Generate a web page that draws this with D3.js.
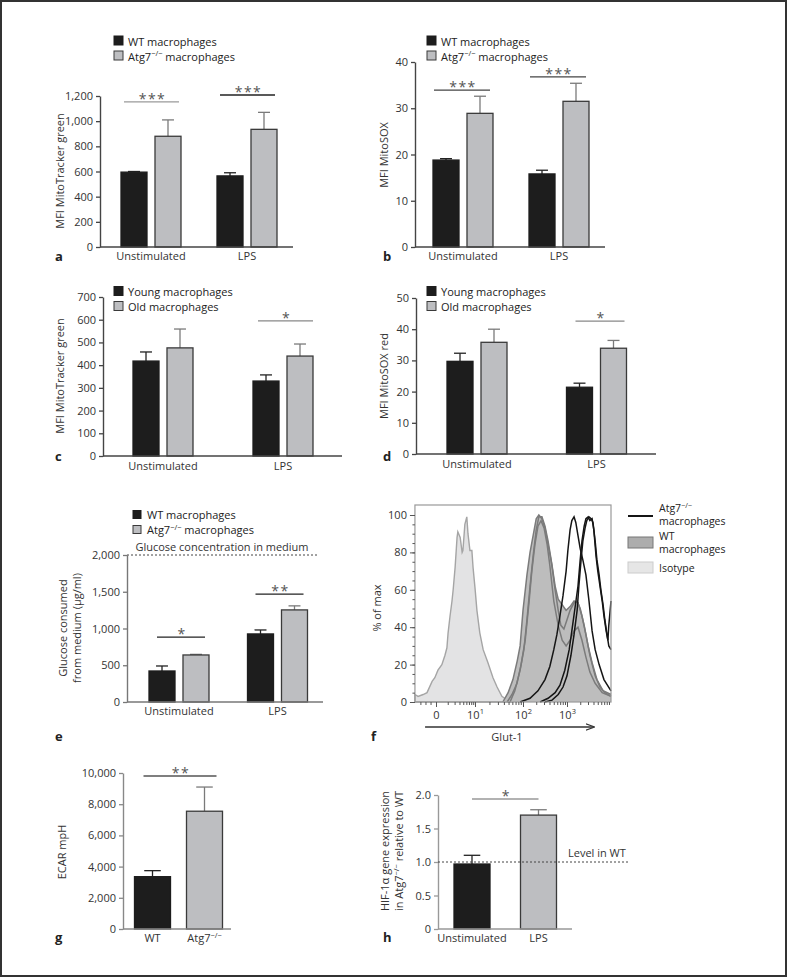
<!DOCTYPE html>
<html><head><meta charset="utf-8">
<script src="https://cdn.jsdelivr.net/npm/d3@7"></script>
<style>
body{margin:0;background:#fff}
svg{display:block;font-family:"Open Sans",sans-serif}
</style></head>
<body><svg id="fig" width="787" height="977"></svg>
<script>
// ---- data ----
const groups = ["Unstimulated","LPS"];
const wtMito = [595,565],  wtMitoSem = [5,25];
const koMito = [880,935],  koMitoSem = [130,135];
const wtSox = [18.8,15.8], wtSoxSem = [0.3,0.8];
const koSox = [28.9,31.5], koSoxSem = [3.7,3.9];
const youngMito = [418,330], youngMitoSem = [40,27];
const oldMito = [476,440],   oldMitoSem = [83,53];
const youngSox = [29.7,21.4], youngSoxSem = [2.6,1.3];
const oldSox = [35.8,33.9],   oldSoxSem = [4.2,2.5];
const wtGlc = [422,926],  wtGlcSem = [68,54];
const koGlc = [640,1253], koGlcSem = [8,55];
const ecarCats = ["WT","Atg7"];
const ecar = [3355,7550], ecarSem = [385,1550];
const hif = [0.97,1.70],  hifSem = [0.13,0.08];
const glucoseInMedium = 2000, levelInWT = 1.0;

// significance: [category, stars, level]
const sigA = [["Unstimulated","***",1153],["LPS","***",1208]];
const sigB = [["Unstimulated","***",33.9],["LPS","***",36.8]];
const sigC = [["LPS","*",595]];
const sigD = [["LPS","*",42.6]];
const sigE = [["Unstimulated","*",884],["LPS","**",1469]];
const sigG = [["WT","**",9808]];
const sigH = [["Unstimulated","*",1.94]];

const ticksA = d3.range(0,1201,200), ticksB = d3.range(0,41,10);
const ticksC = d3.range(0,701,100), ticksD = d3.range(0,51,10);
const ticksE = d3.range(0,2001,500), ticksG = d3.range(0,10001,2000);
const ticksH = [0,0.5,1,1.5,2];

// flow histograms: [Glut-1 (decades, 0 = "0", 1 = 10^1 ...), % of max]
const isotype = [[-0.54,4],[-0.46,3],[-0.33,4],[-0.23,5],[-0.10,11],[-0.03,13],[0.05,17],[0.15,20],[0.23,25],[0.28,29],[0.31,37],[0.36,46],[0.41,54],[0.44,60],[0.49,72],[0.54,88],[0.56,91],[0.62,88],[0.67,80],[0.69,81],[0.74,95],[0.79,99],[0.82,90],[0.87,81],[0.92,81],[0.95,72],[1.0,61],[1.04,49],[1.10,37],[1.17,28],[1.27,21],[1.375,13],[1.46,8],[1.56,3],[1.67,1],[1.77,0]];
const wt1 = [[1.58,0],[1.69,5],[1.79,12],[1.88,22],[1.94,30],[2.0,49],[2.09,68],[2.16,80],[2.23,89],[2.30,98],[2.36,100],[2.43,98],[2.50,93],[2.57,84],[2.66,73],[2.73,62],[2.80,55],[2.89,52],[2.98,49],[3.07,51],[3.16,54],[3.25,53],[3.34,46],[3.43,36],[3.52,25],[3.64,14],[3.75,8],[3.86,5],[4.0,3]];
const wt2 = [[1.73,0],[1.83,6],[1.94,17],[2.02,28],[2.09,44],[2.16,62],[2.23,78],[2.30,92],[2.36,99],[2.43,99],[2.50,94],[2.57,86],[2.64,76],[2.73,60],[2.80,49],[2.86,41],[2.93,39],[3.0,44],[3.07,49],[3.16,53],[3.23,54],[3.30,50],[3.39,41],[3.48,30],[3.57,21],[3.68,12],[3.82,6],[4.0,4]];
const wt3 = [[1.67,0],[1.77,4],[1.875,10],[1.96,20],[2.05,33],[2.14,54],[2.20,70],[2.27,84],[2.34,94],[2.41,97],[2.48,93],[2.55,84],[2.61,73],[2.70,54],[2.80,41],[2.89,33],[2.98,30],[3.07,33],[3.16,38],[3.25,40],[3.34,33],[3.43,24],[3.52,16],[3.64,10],[3.80,5],[4.0,3]];
const ko1 = [[1.94,0],[2.16,2],[2.34,6],[2.5,12],[2.61,19],[2.70,28],[2.77,36],[2.84,46],[2.91,57],[2.98,70],[3.02,81],[3.07,92],[3.11,97],[3.16,99],[3.20,96],[3.25,89],[3.30,82],[3.36,76],[3.43,68],[3.50,54],[3.57,38],[3.64,28],[3.73,20],[3.84,12],[4.0,6]];
const ko2 = [[2.39,0],[2.57,2],[2.73,5],[2.84,9],[2.95,17],[3.05,28],[3.11,38],[3.18,50],[3.25,62],[3.30,76],[3.34,86],[3.39,94],[3.43,98],[3.48,99],[3.52,97],[3.57,98],[3.61,92],[3.66,78],[3.70,70],[3.75,62],[3.80,54],[3.84,46],[3.89,38],[3.93,33],[3.95,41],[4.0,54]];
const ko3 = [[2.5,0],[2.66,1],[2.80,4],[2.91,8],[3.0,14],[3.09,25],[3.16,36],[3.23,49],[3.27,62],[3.32,76],[3.36,86],[3.41,93],[3.45,97],[3.50,99],[3.55,98],[3.59,96],[3.64,86],[3.68,76],[3.73,68],[3.77,60],[3.82,52],[3.86,44],[3.91,36],[3.95,30],[4.0,28]];

// ---- drawing ----
const svg = d3.select('#fig');
const BLACK = '#1d1d1d', GREY = '#bdbec1';
const barStyle = [{fill:BLACK,stroke:'#1d1d1d',err:'#222'},{fill:GREY,stroke:'#3a3a3a',err:'#7a7a7a'}];
const ATG = ["Atg7","^−/−"];

function rich(t, parts){
  let up = false;
  parts.forEach(p=>{
    const sup = p.startsWith('^');
    const ts = t.append('tspan').text(sup ? p.slice(1) : p);
    if(sup){ ts.attr('font-size','0.68em').attr('dy',-4.5); up = true; }
    else if(up){ ts.attr('dy',4.5); up = false; }
  });
  return t;
}

function barPanel(o){
  const g = svg.append('g');
  const y = d3.scaleLinear().domain([0,o.ymax]).range([o.base,o.top]);
  const xg = d3.scalePoint().domain(o.cats).range(o.centers);
  const xs = d3.scaleBand().domain(d3.range(o.series.length)).range([-o.span/2,o.span/2]).paddingInner(o.pad||0);
  const bw = xs.bandwidth();
  const bars = [];
  o.series.forEach((s,si)=>s.vals.forEach((v,i)=>bars.push({
    v, sem:s.sem[i], st:barStyle[o.byCat?i:si], x:xg(o.cats[i])+xs(si)})));

  // error bars (upper only)
  const eb = g.append('g').selectAll('g').data(bars).join('g')
    .attr('stroke',d=>d.st.err).attr('stroke-width',1.3);
  eb.append('line').attr('x1',d=>d.x+bw/2).attr('x2',d=>d.x+bw/2)
    .attr('y1',d=>y(d.v)).attr('y2',d=>y(d.v+d.sem));
  eb.append('line').attr('x1',d=>d.x+bw/2-bw*0.23).attr('x2',d=>d.x+bw/2+bw*0.23)
    .attr('y1',d=>y(d.v+d.sem)).attr('y2',d=>y(d.v+d.sem));

  g.append('g').selectAll('rect').data(bars).join('rect')
    .attr('x',d=>d.x).attr('y',d=>y(d.v)).attr('width',bw).attr('height',d=>y(0)-y(d.v))
    .attr('fill',d=>d.st.fill).attr('stroke',d=>d.st.stroke).attr('stroke-width',1.3);

  // axes
  const ax = g.append('g').attr('transform',`translate(${o.x0},0)`)
    .call(d3.axisLeft(y).tickValues(o.ticks).tickSize(4).tickSizeOuter(0).tickPadding(3)
      .tickFormat(o.fmt||d3.format(',')))
    .attr('font-family','"Open Sans",sans-serif').attr('font-size',11);
  ax.select('.domain').attr('stroke',o.axis).attr('stroke-width',1.4);
  ax.selectAll('.tick line').attr('stroke',o.axis).attr('stroke-width',1.3);
  ax.selectAll('.tick text').attr('fill','#333');
  g.append('line').attr('x1',o.x0).attr('x2',o.x1).attr('y1',y(0)).attr('y2',y(0))
    .attr('stroke',o.axis).attr('stroke-width',1.4);
  o.catLabels.forEach((parts,i)=>{
    rich(g.append('text').attr('x',xg(o.cats[i])).attr('y',o.labelY).attr('text-anchor','middle')
      .attr('font-size',11).attr('fill','#333'), parts);
  });

  // significance bars
  (o.sig||[]).forEach(([c,lab,at],k)=>{
    let xa, xb;
    if(o.byCat){ xa = xg(o.cats[0])+xs(0)+o.sigIn[0]; xb = xg(o.cats[1])+xs(0)+bw-o.sigIn[1]; }
    else { xa = xg(c)+xs(0)+o.sigIn[0]; xb = xg(c)+xs(o.series.length-1)+bw-o.sigIn[1]; }
    g.append('line').attr('x1',xa).attr('x2',xb).attr('y1',y(at)).attr('y2',y(at))
      .attr('stroke',o.sigColor[k]).attr('stroke-width',1.3);
    g.append('text').attr('x',(xa+xb)/2+1).attr('y',y(at)+2).attr('text-anchor','middle')
      .attr('font-size',14).attr('letter-spacing',1.5).attr('fill','#555').text(lab);
  });

  // reference line
  if(o.ref){
    g.append('line').attr('x1',o.x0).attr('x2',o.ref.x2).attr('y1',y(o.ref.v)).attr('y2',y(o.ref.v))
      .attr('stroke','#444').attr('stroke-width',1).attr('stroke-dasharray','2,2');
    g.append('text').attr('x',o.ref.lx).attr('y',y(o.ref.v)-o.ref.dy).attr('text-anchor',o.ref.anchor)
      .attr('font-size',11).attr('fill','#333').text(o.ref.label);
  }

  // legend
  if(o.legend){
    const L = o.legend, sz = L.size||9;
    L.items.forEach((parts,k)=>{
      const by = L.y + k*L.dy;
      g.append('rect').attr('x',L.x).attr('y',by-sz).attr('width',sz).attr('height',sz)
        .attr('fill',barStyle[k].fill).attr('stroke',barStyle[k].stroke).attr('stroke-width',1);
      rich(g.append('text').attr('x',L.x+14).attr('y',by+0.5).attr('font-size',11).attr('fill','#222'), parts);
    });
  }

  // y label
  o.ylab.lines.forEach((parts,k)=>{
    rich(g.append('text').attr('transform',`translate(${o.ylab.x+k*14},${o.ylab.y}) rotate(-90)`)
      .attr('text-anchor','middle').attr('font-size',11).attr('fill','#333'), parts);
  });
  g.append('text').attr('x',o.letter[0]).attr('y',o.letter[1]).attr('font-size',13)
    .attr('font-weight','bold').attr('fill','#222').text(o.letter[2]);
}

const wtKoLegend = [["WT macrophages"],[...ATG," macrophages"]];
const ageLegend = [["Young macrophages"],["Old macrophages"]];
const grpLabels = groups.map(d=>[d]);

barPanel({x0:100,x1:293,base:247,top:96,ymax:1200,cats:groups,centers:[151,247],span:60,pad:0.235,
  series:[{vals:wtMito,sem:wtMitoSem},{vals:koMito,sem:koMitoSem}],ticks:ticksA,axis:'#444',
  catLabels:grpLabels,labelY:260,sig:sigA,sigIn:[3,2],sigColor:['#9a9a9a','#222'],
  legend:{x:114,y:45,dy:15,items:wtKoLegend},ylab:{x:64,y:171,lines:[["MFI MitoTracker green"]]},letter:[55,261,'a']});

barPanel({x0:415,x1:605,base:247,top:62,ymax:40,cats:groups,centers:[463,559],span:60,pad:0.235,
  series:[{vals:wtSox,sem:wtSoxSem},{vals:koSox,sem:koSoxSem}],ticks:ticksB,axis:'#444',
  catLabels:grpLabels,labelY:260,sig:sigB,sigIn:[1,3],sigColor:['#444','#444'],
  legend:{x:427,y:45,dy:15,items:wtKoLegend},ylab:{x:388,y:155,lines:[["MFI MitoSOX"]]},letter:[383,261,'b']});

barPanel({x0:103,x1:342,base:456,top:297,ymax:700,cats:groups,centers:[163,283],span:60,pad:0.235,
  series:[{vals:youngMito,sem:youngMitoSem},{vals:oldMito,sem:oldMitoSem}],ticks:ticksC,axis:'#444',
  catLabels:grpLabels,labelY:470,sig:sigC,sigIn:[5,0],sigColor:['#888'],
  legend:{x:114,y:295.5,dy:15,items:ageLegend},ylab:{x:64,y:376,lines:[["MFI MitoTracker green"]]},letter:[55,461,'c']});

barPanel({x0:416,x1:656,base:454,top:298,ymax:50,cats:groups,centers:[477,596.5],span:60,pad:0.235,
  series:[{vals:youngSox,sem:youngSoxSem},{vals:oldSox,sem:oldSoxSem}],ticks:ticksD,axis:'#444',
  catLabels:grpLabels,labelY:468,sig:sigD,sigIn:[9,2],sigColor:['#888'],
  legend:{x:427,y:295.5,dy:15,items:ageLegend},ylab:{x:388,y:376,lines:[["MFI MitoSOX red"]]},letter:[383,461,'d']});

barPanel({x0:127,x1:323,base:702,top:555,ymax:2000,cats:groups,centers:[179,277.5],span:60,pad:0.235,
  series:[{vals:wtGlc,sem:wtGlcSem},{vals:koGlc,sem:koGlcSem}],ticks:ticksE,axis:'#777',
  catLabels:grpLabels,labelY:715,sig:sigE,sigIn:[8,4],sigColor:['#222','#222'],
  ref:{v:glucoseInMedium,x2:317,label:"Glucose concentration in medium",lx:222,dy:4,anchor:'middle'},
  legend:{x:133,y:518.5,dy:15,size:8,items:wtKoLegend},
  ylab:{x:67,y:628,lines:[["Glucose consumed"],["from medium (µg/ml)"]]},letter:[55,741,'e']});

barPanel({x0:123,x1:231,base:929,top:773,ymax:10000,cats:ecarCats,centers:[152.5,204.5],span:36,byCat:true,
  series:[{vals:ecar,sem:ecarSem}],ticks:ticksG,axis:'#888',
  catLabels:[["WT"],ATG],labelY:942,sig:sigG,sigIn:[9,6],sigColor:['#555'],
  ylab:{x:66,y:852,lines:[["ECAR mpH"]]},letter:[55,942,'g']});

barPanel({x0:438,x1:572,base:929,top:795,ymax:2,cats:groups,centers:[472,538.5],span:36,byCat:true,
  series:[{vals:hif,sem:hifSem}],ticks:ticksH,axis:'#999',fmt:d=>d?d.toFixed(1):'0',
  catLabels:grpLabels,labelY:942,sig:sigH,sigIn:[18,18],sigColor:['#999'],
  ref:{v:levelInWT,x2:630,label:"Level in WT",lx:568,dy:5,anchor:'start'},
  ylab:{x:389,y:851,lines:[["HIF-1α gene expression"],["in ",...ATG," relative to WT"]]},letter:[383,942,'h']});

// ---- panel f : flow histogram ----
(function(){
  const g = svg.append('g');
  const x = d3.scaleLinear().domain([0,1,2,3]).range([436,475,523,567]);
  const y = d3.scaleLinear().domain([0,100]).range([702,515]);
  const xl = x(-0.54), xr = x(4), yt = 505;
  const area = d3.area().x(d=>x(d[0])).y0(y(0)).y1(d=>y(d[1]));
  const line = d3.line().x(d=>x(d[0])).y(d=>y(d[1]));

  g.append('path').attr('d',area(isotype)).attr('fill','#e3e3e4').attr('stroke','#a5a5a5').attr('stroke-width',1.4);
  [wt1,wt2,wt3].forEach(c=>g.append('path').attr('d',area(c)).attr('fill','#bdbdbd'));
  [wt1,wt2,wt3].forEach(c=>g.append('path').attr('d',line(c)).attr('fill','none').attr('stroke','#7b7b7b').attr('stroke-width',1.5));
  [ko1,ko2,ko3].forEach(c=>g.append('path').attr('d',line(c)).attr('fill','none').attr('stroke','#151515').attr('stroke-width',1.5));

  g.append('rect').attr('x',xl).attr('y',yt).attr('width',xr-xl).attr('height',y(0)-yt)
    .attr('fill','none').attr('stroke','#999').attr('stroke-width',1.2);

  const ya = g.append('g').attr('transform',`translate(${xl},0)`)
    .call(d3.axisLeft(y).tickValues(d3.range(0,101,20)).tickSize(5).tickPadding(3))
    .attr('font-family','"Open Sans",sans-serif').attr('font-size',11);
  ya.select('.domain').remove();
  ya.selectAll('.tick line').attr('stroke','#555');
  ya.selectAll('.tick text').attr('fill','#333');
  g.append('g').attr('transform',`translate(${xl},0)`)
    .call(d3.axisLeft(y).tickValues(d3.range(0,101,5)).tickSize(2.5).tickFormat(''))
    .call(s=>s.select('.domain').remove()).selectAll('line').attr('stroke','#555');

  const minor = [-0.4,-0.27,-0.14];
  [0,1,2,3].forEach(k=>d3.range(2,10).forEach(m=>{ const u = k+Math.log10(m); if(u<4) minor.push(u); }));
  g.append('g').attr('transform',`translate(0,${y(0)})`)
    .call(d3.axisBottom(x).tickValues(minor).tickSize(3).tickFormat(''))
    .call(s=>s.select('.domain').remove()).selectAll('line').attr('stroke','#555');
  const xa = g.append('g').attr('transform',`translate(0,${y(0)})`)
    .call(d3.axisBottom(x).tickValues([0,1,2,3]).tickSize(5).tickPadding(4))
    .attr('font-family','"Open Sans",sans-serif').attr('font-size',11);
  xa.select('.domain').remove();
  xa.selectAll('.tick line').attr('stroke','#555');
  xa.selectAll('.tick text').attr('fill','#333').each(function(d){
    const t = d3.select(this).text(null);
    if(d===0) t.text('0'); else rich(t,["10","^"+d]);
  });

  // arrow + axis title
  const defs = svg.append('defs');
  defs.append('marker').attr('id','arr').attr('viewBox','0 0 10 10').attr('refX',9).attr('refY',5)
    .attr('markerWidth',7).attr('markerHeight',7).attr('orient','auto')
    .append('path').attr('d','M0,1.5L10,5L0,8.5').attr('fill','none').attr('stroke','#333').attr('stroke-width',1.4);
  g.append('line').attr('x1',x(-0.28)).attr('x2',x(3.61)).attr('y1',727).attr('y2',727)
    .attr('stroke','#333').attr('stroke-width',1.3).attr('marker-end','url(#arr)');
  g.append('text').attr('x',507).attr('y',741).attr('text-anchor','middle').attr('font-size',11).attr('fill','#333').text('Glut-1');
  g.append('text').attr('transform','translate(381,608) rotate(-90)').attr('text-anchor','middle')
    .attr('font-size',11).attr('fill','#333').text('% of max');
  g.append('text').attr('x',371).attr('y',741).attr('font-size',13).attr('font-weight','bold').attr('fill','#222').text('f');

  // legend (two-line entries are one text each)
  const lx = 628, tx = lx+31, fs = 10.5;
  g.append('line').attr('x1',lx).attr('x2',lx+25).attr('y1',516).attr('y2',516).attr('stroke','#151515').attr('stroke-width',2);
  const t1 = rich(g.append('text').attr('x',tx).attr('y',512).attr('font-size',fs).attr('fill','#222'),ATG);
  t1.append('tspan').attr('x',tx).attr('dy',13+4.5).text('macrophages');
  g.append('rect').attr('x',lx).attr('y',537).attr('width',25).attr('height',11).attr('fill','#adadad').attr('stroke','#777');
  const t2 = g.append('text').attr('x',tx).attr('y',540).attr('font-size',fs).attr('fill','#222');
  t2.append('tspan').text('WT');
  t2.append('tspan').attr('x',tx).attr('dy',13).text('macrophages');
  g.append('rect').attr('x',lx).attr('y',562).attr('width',25).attr('height',11).attr('fill','#e6e6e6').attr('stroke','#ccc');
  g.append('text').attr('x',tx).attr('y',572).attr('font-size',fs).attr('fill','#222').text('Isotype');
})();

// outer frame
svg.append('rect').attr('x',1).attr('y',1).attr('width',785).attr('height',975)
  .attr('fill','none').attr('stroke','#333').attr('stroke-width',2);
</script>
</body></html>
